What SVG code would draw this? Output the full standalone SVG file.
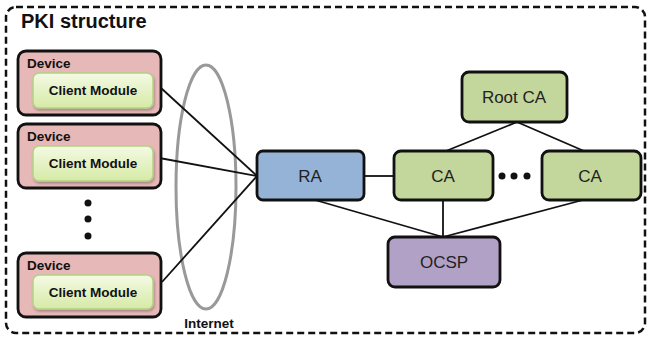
<svg xmlns="http://www.w3.org/2000/svg" width="650" height="338" viewBox="0 0 650 338">
<defs>
<linearGradient id="cmGrad" x1="0" y1="0" x2="0" y2="1">
<stop offset="0" stop-color="#f4fae4"/>
<stop offset="1" stop-color="#d6eaa6"/>
</linearGradient>
<filter id="sh" x="-10%" y="-10%" width="130%" height="140%">
<feDropShadow dx="1" dy="2" stdDeviation="1" flood-color="#000" flood-opacity="0.25"/>
</filter>
</defs>
<style>
.frame{fill:none;stroke:#111;stroke-width:2.5;stroke-dasharray:7 4}
.title{font-family:"Liberation Sans",Arial,sans-serif;font-weight:bold;font-size:20px;fill:#111}
.dev{fill:#e6b8b7;stroke:#111;stroke-width:2.8}
.cm{fill:url(#cmGrad);stroke:#b2d284;stroke-width:1.5}
.devlbl{font-family:"Liberation Sans",Arial,sans-serif;font-weight:bold;font-size:13.5px;fill:#111}
.cmlbl{font-family:"Liberation Sans",Arial,sans-serif;font-weight:bold;font-size:13.5px;fill:#111;text-anchor:middle}
.box{stroke:#111;stroke-width:2.8}
.lbl{font-family:"Liberation Sans",Arial,sans-serif;font-size:17px;fill:#222;text-anchor:middle}
.conn{stroke:#111;stroke-width:1.8;fill:none}
.dot{fill:#111}
</style>
<rect class="frame" x="6" y="7" width="639" height="326" rx="10"/>
<text class="title" x="21" y="28">PKI structure</text>

<g id="internet">
<ellipse cx="206" cy="187" rx="30" ry="122" fill="none" stroke="#999" stroke-width="3"/>
<text class="devlbl" x="209" y="328" text-anchor="middle">Internet</text>
</g>

<g id="connectors">
<line class="conn" x1="161" y1="88" x2="257" y2="176"/>
<line class="conn" x1="154" y1="157" x2="257" y2="176"/>
<line class="conn" x1="162" y1="282" x2="257" y2="176"/>
<line class="conn" x1="364" y1="176" x2="394" y2="176"/>
<line class="conn" x1="517" y1="122" x2="446" y2="151"/>
<line class="conn" x1="517" y1="122" x2="584" y2="151"/>
<line class="conn" x1="315" y1="200" x2="443" y2="237"/>
<line class="conn" x1="443" y1="200" x2="443" y2="237"/>
<line class="conn" x1="583" y1="200" x2="443" y2="237"/>
</g>

<g id="device1">
<rect class="dev" x="18" y="51" width="143" height="64" rx="8"/>
<text class="devlbl" x="27" y="68">Device</text>
<rect class="cm" x="33" y="73" width="120" height="35" rx="6" filter="url(#sh)"/>
<text class="cmlbl" x="93" y="95">Client Module</text>
</g>
<g id="device2">
<rect class="dev" x="18" y="124" width="143" height="64" rx="8"/>
<text class="devlbl" x="27" y="141">Device</text>
<rect class="cm" x="33" y="146" width="120" height="35" rx="6" filter="url(#sh)"/>
<text class="cmlbl" x="93" y="168">Client Module</text>
</g>
<g id="devdots">
<circle class="dot" cx="88" cy="203" r="3.5"/>
<circle class="dot" cx="88" cy="219" r="3.5"/>
<circle class="dot" cx="88" cy="236" r="3.5"/>
</g>
<g id="device3">
<rect class="dev" x="18" y="253" width="143" height="64" rx="8"/>
<text class="devlbl" x="27" y="270">Device</text>
<rect class="cm" x="33" y="275" width="120" height="34" rx="6" filter="url(#sh)"/>
<text class="cmlbl" x="93" y="297">Client Module</text>
</g>

<g id="ra">
<rect class="box" x="257" y="151" width="107" height="49" rx="6" fill="#95b3d7"/>
<text class="lbl" x="310" y="182">RA</text>
</g>
<g id="rootca">
<rect class="box" x="462" y="72" width="105" height="50" rx="7" fill="#c3d69b"/>
<text class="lbl" x="514" y="103">Root CA</text>
</g>
<g id="ca1">
<rect class="box" x="394" y="151" width="99" height="49" rx="7" fill="#c3d69b"/>
<text class="lbl" x="443" y="182">CA</text>
</g>
<g id="cadots">
<circle class="dot" cx="502" cy="176" r="3.5"/>
<circle class="dot" cx="514" cy="176" r="3.5"/>
<circle class="dot" cx="527" cy="176" r="3.5"/>
</g>
<g id="ca2">
<rect class="box" x="542" y="151" width="99" height="49" rx="7" fill="#c3d69b"/>
<text class="lbl" x="590" y="182">CA</text>
</g>
<g id="ocsp">
<rect class="box" x="388" y="237" width="112" height="50" rx="7" fill="#b2a1c7"/>
<text class="lbl" x="444" y="268">OCSP</text>
</g>
</svg>
